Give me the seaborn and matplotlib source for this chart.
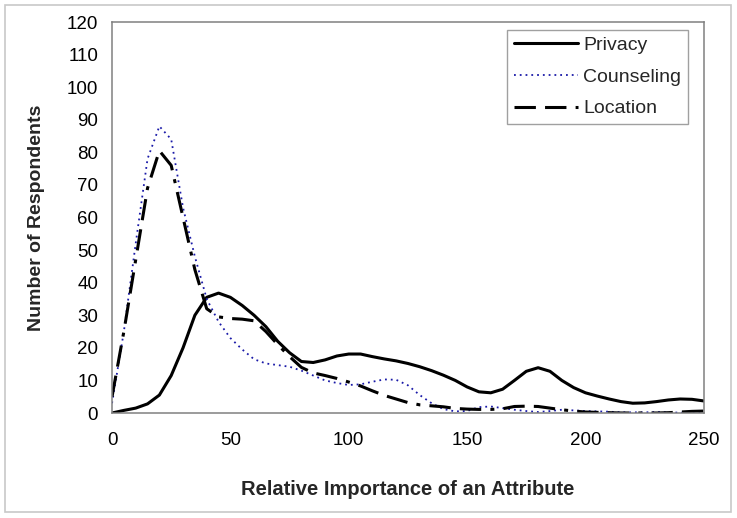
import matplotlib
matplotlib.use("Agg")
import matplotlib.pyplot as plt
import seaborn as sns
import pandas as pd
from matplotlib.patches import Rectangle

importance = list(range(0, 255, 5))

privacy = [0, 0.8, 1.5, 2.8, 5.5, 11.5, 20, 30, 35.5, 36.8, 35.5, 33, 30, 26.5, 22,
           18.5, 15.8, 15.5, 16.3, 17.5, 18.1, 18.1, 17.3, 16.6, 16, 15.2, 14.2, 13,
           11.6, 10, 8, 6.5, 6.2, 7.3, 10, 12.8, 13.9, 12.8, 10, 7.8, 6.2, 5.2, 4.3,
           3.5, 3, 3.1, 3.5, 4, 4.3, 4.2, 3.7]
counseling = [3, 25, 52, 78, 88, 84, 63, 48, 35, 28, 23, 19.5, 16.5, 15.2, 14.7, 14.2,
              13, 11.5, 10, 9.2, 8.6, 8.8, 9.6, 10.3, 10.2, 8.5, 5.5, 3, 1.2, 0.5, 0.6,
              1.8, 2, 1.5, 1, 0.6, 0.3, 0.6, 1, 0.8, 0.6, 0.5, 0.4, 0.2, 0.2, 0.2, 0.3,
              0.2, 0.1, 0.1, 0.1]
location = [5, 25, 47, 69, 80.5, 76, 60, 44, 32, 29.5, 29, 28.8, 28.3, 25, 21, 17.3, 14,
            12.3, 11.5, 10.6, 9.5, 8.3, 6.8, 5.4, 4.3, 3.2, 2.5, 2.2, 1.9, 1.4, 1.2, 1.1,
            1.1, 1.3, 2, 2.1, 2, 1.5, 1, 0.6, 0.3, 0.2, 0.1, 0, 0, 0, 0, 0.1, 0.3, 0.5,
            0.6]

series = {"Privacy": privacy, "Counseling": counseling, "Location": location}

sns.set_style("white")
plt.rcParams["font.family"] = ["Liberation Sans", "DejaVu Sans"]

fig = plt.figure(figsize=(7.37, 5.18), dpi=100)
ax = fig.add_axes([0.152, 0.2027, 0.803, 0.7548])

fig.patches.append(Rectangle((5 / 737, 6 / 518), 726 / 737, 507 / 518, transform=fig.transFigure,
                             fill=False, edgecolor="#c8c8c8", linewidth=1.2))

styles = {
    "Privacy": dict(color="black", linewidth=2.2, linestyle="-"),
    "Counseling": dict(color="#1a1aa8", linewidth=1.3, linestyle=(0, (1, 2.2))),
    "Location": dict(color="black", linewidth=2.2, linestyle=(0, (7, 3, 7, 3, 1.3, 3))),
}

for name, values in series.items():
    df = pd.DataFrame({"x": importance, "y": values})
    sns.lineplot(data=df, x="x", y="y", ax=ax, label=name, **styles[name])

ax.set_xlim(0, 250)
ax.set_ylim(0, 120)
ax.set_xticks(range(0, 251, 50))
ax.set_yticks(range(0, 121, 10))
ax.tick_params(axis="both", labelsize=13.5, colors="black", length=4, width=1, direction="out")
ax.tick_params(axis="y", pad=6, color="#808080")
ax.tick_params(axis="x", pad=10, color="#808080")
for s in ax.spines.values():
    s.set_color("#808080")
    s.set_linewidth(1.1)

ax.set_xlabel("Relative Importance of an Attribute", fontsize=14.5, fontweight="bold", labelpad=22)
ax.set_ylabel("Number of Respondents", fontsize=14, fontweight="bold", labelpad=16)

leg = ax.legend(loc="upper right", bbox_to_anchor=(0.98, 0.99), fontsize=14, frameon=True,
                fancybox=False, framealpha=1, edgecolor="#a0a0a0", handlelength=3.3,
                handletextpad=0.25, borderpad=0.35, labelspacing=0.72, borderaxespad=0.2)
leg.get_frame().set_linewidth(1)

fig.savefig("out.png", dpi=100)
